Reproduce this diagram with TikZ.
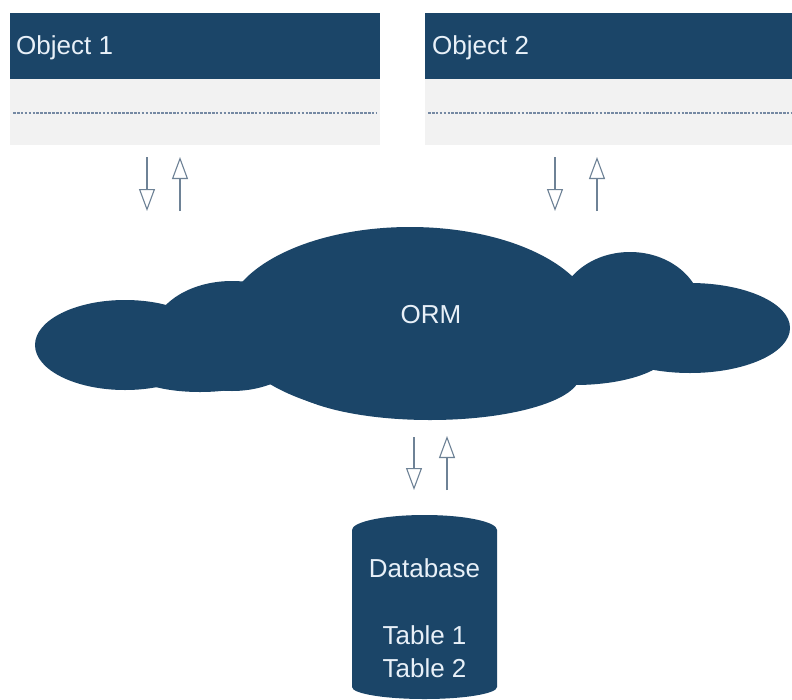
\documentclass[tikz,border=0pt]{standalone}
\usepackage{fontspec}
\setmainfont{Liberation Sans}
\usetikzlibrary{arrows.meta}
\definecolor{navy}{HTML}{1B4568}
\definecolor{panel}{HTML}{F2F2F2}
\definecolor{dotline}{HTML}{7589A3}
\definecolor{flow}{HTML}{6E8296}
\definecolor{label}{HTML}{E8F0F8}
\tikzset{
  header/.style={fill=navy, draw=none},
  body/.style={fill=panel, draw=none},
  divider/.style={draw=dotline, line width=1.4pt, dash pattern=on 2.6pt off 1.3pt},
  caption/.style={text=label, font=\fontsize{26}{30}\selectfont, inner sep=0pt},
  flowarrow/.style={draw=flow, line width=1.2pt,
    -{Triangle[open, length=22pt, width=16pt, line width=1.1pt, fill=white]}},
  lobe/.style={fill=navy, draw=none},
}
\begin{document}
\begin{tikzpicture}[x=1pt, y=-1pt]
\useasboundingbox (0,0) rectangle (792,699);
\fill[white] (0,0) rectangle (792,699);

% class boxes
\fill[header] (10,13) rectangle (380,79);
\fill[body] (10,79) rectangle (380,145);
\draw[divider] (13,113) -- (376,113);
\node[caption, anchor=base west] (obj1) at (16,54) {Object 1};

\fill[header] (425,13) rectangle (792,79);
\fill[body] (425,79) rectangle (792,145);
\draw[divider] (428,113) -- (792,113);
\node[caption, anchor=base west] (obj2) at (432,54) {Object 2};

% ORM cloud built from overlapping ellipses
\fill[lobe] (125,345) ellipse [x radius=90pt, y radius=45pt];
\fill[lobe] (232,336) ellipse [x radius=80pt, y radius=55pt];
\fill[lobe] (410,322) ellipse [x radius=185pt, y radius=95pt];
\fill[lobe] (630,312) ellipse [x radius=72pt, y radius=60pt];
\fill[lobe] (690,328) ellipse [x radius=100pt, y radius=45pt];
\fill[lobe] (430,375) ellipse [x radius=150pt, y radius=45pt];
\fill[lobe] (575,350) ellipse [x radius=95pt, y radius=35pt];
\fill[lobe] (200,370) ellipse [x radius=70pt, y radius=22pt];
\node[caption, anchor=base] (orm) at (431,323) {ORM};

% database cylinder
\fill[navy] (352,530) arc[start angle=180, end angle=0, x radius=72.5pt, y radius=15pt]
  -- (497,687) arc[start angle=0, end angle=-180, x radius=72.5pt, y radius=12pt] -- cycle;
\node[caption, anchor=base] (db) at (424.5,577) {Database};
\node[caption, anchor=base] (t1) at (424.5,644) {Table 1};
\node[caption, anchor=base] (t2) at (424.5,677) {Table 2};

% data flow arrow end points
\coordinate (a1s) at (147,157); \coordinate (a1e) at (147,211);
\coordinate (b1s) at (180,211); \coordinate (b1e) at (180,157);
\coordinate (a2s) at (555,157); \coordinate (a2e) at (555,211);
\coordinate (b2s) at (597,211); \coordinate (b2e) at (597,157);
\coordinate (a3s) at (414,437); \coordinate (a3e) at (414,490);
\coordinate (b3s) at (447,490); \coordinate (b3e) at (447,436);

\draw[flowarrow] (a1s) -- (a1e);
\draw[flowarrow] (b1s) -- (b1e);
\draw[flowarrow] (a2s) -- (a2e);
\draw[flowarrow] (b2s) -- (b2e);
\draw[flowarrow] (a3s) -- (a3e);
\draw[flowarrow] (b3s) -- (b3e);
\end{tikzpicture}
\end{document}
